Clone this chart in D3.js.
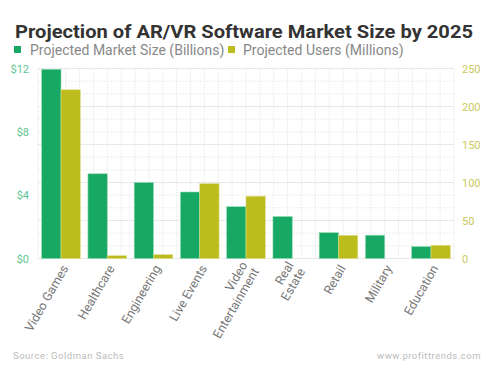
<!DOCTYPE html>
<html>
<head>
<meta charset="UTF-8">
<title>AR/VR Software Market</title>
<script src="https://d3js.org/d3.v7.min.js"></script>
<style>
body { margin: 0; background: #fff; }
svg { font-family: Roboto, "Noto Sans", sans-serif; }
</style>
</head>
<body>
<svg id="chart" width="494" height="373"></svg>
<script>
// data
const categories = ["Video Games", "Healthcare", "Engineering", "Live Events", "Video\nEntertainment", "Real\nEstate", "Retail", "Military", "Education"];
const marketSize = [11.95, 5.35, 4.8, 4.2, 3.27, 2.65, 1.63, 1.47, 0.75];   // $ billions
const users = [222, 3.7, 5, 98.5, 82, null, 30.5, null, 17.4];             // millions
const leftTicks = [0, 4, 8, 12];
const rightTicks = [0, 50, 100, 150, 200, 250];

const green = "#17a863", olive = "#bcbc1c";

const svg = d3.select("#chart");
const plotL = 38, plotR = 454, plotT = 68.5, plotB = 258.5;

const x = d3.scaleBand().domain(categories).range([plotL, plotR])
    .paddingInner(0.165).paddingOuter(0.08);
const yL = d3.scaleLinear().domain([0, 12]).range([plotB, plotT]);
const yR = d3.scaleLinear().domain([0, 250]).range([plotB, plotT]);

// grid
const grid = svg.append("g");
d3.range(0, 31).forEach(i => {
    const gx = plotL + (plotR - plotL) * i / 30;
    grid.append("line").attr("x1", gx).attr("x2", gx).attr("y1", plotT).attr("y2", plotB)
        .attr("stroke", "#ececec").attr("stroke-dasharray", "2,1");
});
d3.range(0, 16).forEach(i => {
    const gy = plotB - (plotB - plotT) * i / 15;
    grid.append("line").attr("x1", plotL).attr("x2", plotR).attr("y1", gy).attr("y2", gy)
        .attr("stroke", i % 3 == 0 ? "#e8e8e8" : "#ededed")
        .attr("stroke-dasharray", i % 3 == 0 ? null : "2,1");
});

// bars
const bw = x.bandwidth() / 2;
svg.append("g").selectAll("rect")
    .data(categories)
    .join("rect")
    .attr("x", d => x(d))
    .attr("y", (d, i) => yL(marketSize[i]))
    .attr("width", bw)
    .attr("height", (d, i) => plotB - yL(marketSize[i]))
    .attr("fill", green)
    .attr("stroke", "#8fd9b2").attr("stroke-width", 0.6);

svg.append("g").selectAll("rect")
    .data(categories.filter((d, i) => users[i] != null))
    .join("rect")
    .attr("x", d => x(d) + bw)
    .attr("y", d => yR(users[categories.indexOf(d)]))
    .attr("width", bw)
    .attr("height", d => plotB - yR(users[categories.indexOf(d)]))
    .attr("fill", olive)
    .attr("stroke", "#dede8a").attr("stroke-width", 0.6);

// axes
const axL = svg.append("g").attr("transform", `translate(29,0)`)
    .call(d3.axisLeft(yL).tickValues(leftTicks).tickSize(0).tickFormat(d => "$" + d));
axL.select(".domain").remove();
axL.selectAll("text").attr("fill", "#5fc593").attr("font-size", 11).attr("x", 0)
    .attr("font-family", "Roboto, sans-serif");

const axR = svg.append("g").attr("transform", `translate(462,0)`)
    .call(d3.axisRight(yR).tickValues(rightTicks).tickSize(0));
axR.select(".domain").remove();
axR.selectAll("text").attr("fill", "#c9c95c").attr("font-size", 11).attr("x", 0)
    .attr("font-family", "Roboto, sans-serif");

// category labels
const labels = svg.append("g");
categories.forEach(c => {
    const lines = c.split("\n");
    const cx = x(c) + x.bandwidth() / 2 + 4;
    const t = labels.append("text")
        .attr("transform", `translate(${cx},266) rotate(-60)`)
        .attr("text-anchor", "end")
        .attr("fill", "#777")
        .attr("font-size", 12.5);
    lines.forEach((l, j) => {
        t.append("tspan").attr("x", 0)
            .attr("dy", j == 0 ? (lines.length > 1 ? "-0.2em" : "0.35em") : "1.05em")
            .text(l);
    });
});

// title and legend
svg.append("text").attr("x", 15).attr("y", 38)
    .attr("font-size", 19).attr("font-weight", "bold").attr("fill", "#333")
    .attr("textLength", 458).attr("lengthAdjust", "spacingAndGlyphs")
    .text("Projection of AR/VR Software Market Size by 2025");

const legend = svg.append("g");
legend.append("rect").attr("x", 14).attr("y", 46).attr("width", 7).attr("height", 7).attr("fill", green);
legend.append("text").attr("x", 30).attr("y", 55).attr("font-size", 14).attr("fill", "#888")
    .text("Projected Market Size (Billions)");
legend.append("rect").attr("x", 228).attr("y", 46).attr("width", 7).attr("height", 7).attr("fill", olive);
legend.append("text").attr("x", 243).attr("y", 55).attr("font-size", 14).attr("fill", "#888")
    .text("Projected Users (Millions)");

// footer
svg.append("text").attr("x", 13).attr("y", 359).attr("font-size", 9.5).attr("fill", "#bbb")
    .attr("letter-spacing", 0.5).text("Source: Goldman Sachs");
svg.append("text").attr("x", 481).attr("y", 359).attr("font-size", 9.5).attr("fill", "#bbb")
    .attr("text-anchor", "end").attr("letter-spacing", 0.5).text("www.profittrends.com");
</script>
</body>
</html>
